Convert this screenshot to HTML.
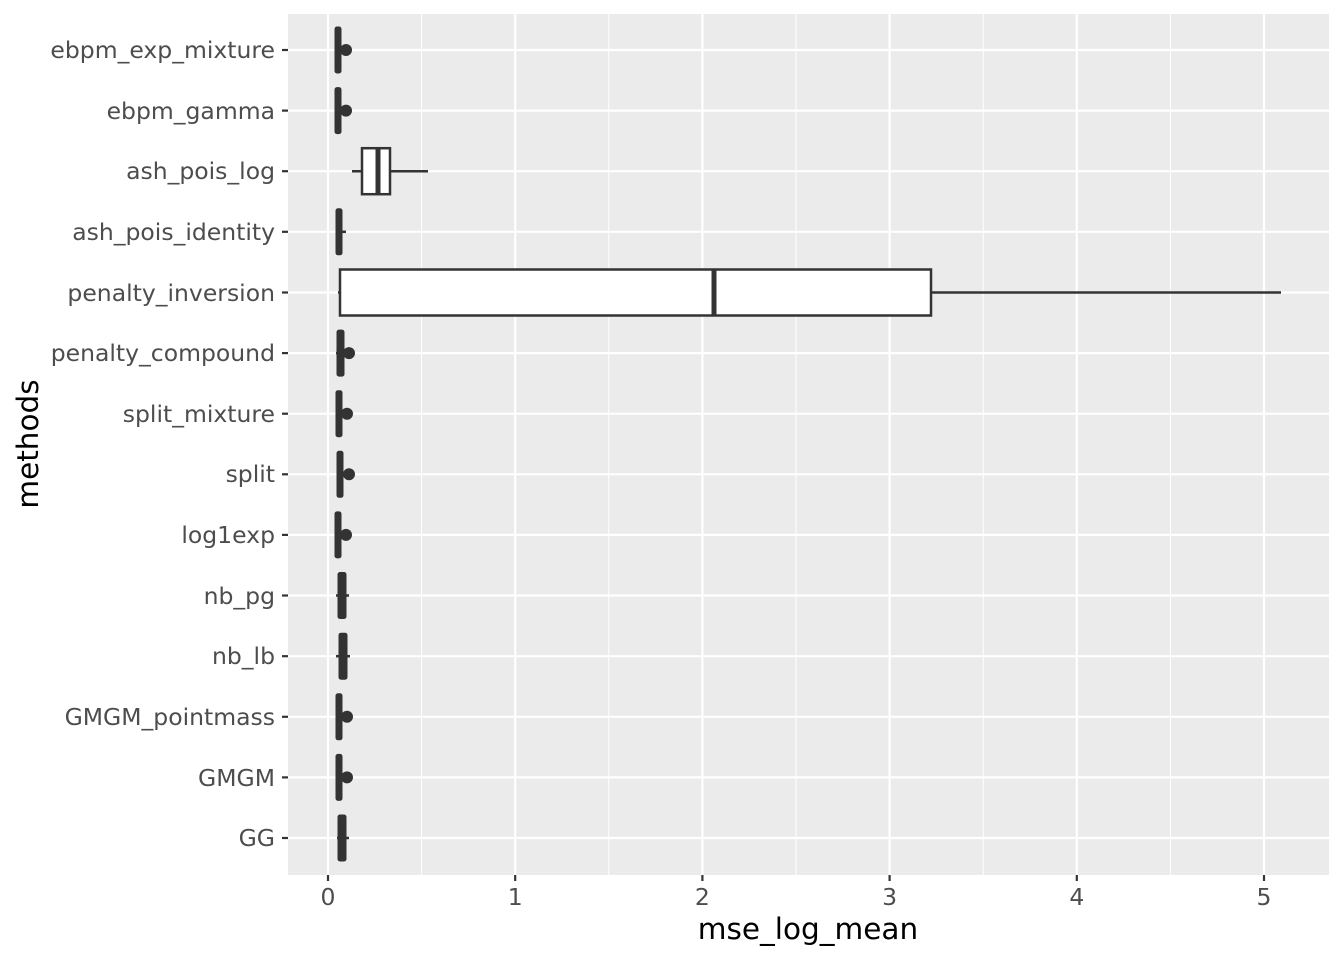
<!DOCTYPE html>
<html><head><meta charset="utf-8"><style>body{margin:0;background:#fff}svg{display:block}text{font-family:"DejaVu Sans","Liberation Sans",sans-serif}</style></head><body>
<svg width="1344" height="960" viewBox="0 0 1344 960" xmlns="http://www.w3.org/2000/svg">
<rect x="288" y="14" width="1041" height="861" fill="#ebebeb"/>
<g stroke="#fff" stroke-width="1">
<line x1="421.6" y1="14" x2="421.6" y2="875"/><line x1="608.8" y1="14" x2="608.8" y2="875"/><line x1="796" y1="14" x2="796" y2="875"/><line x1="983.2" y1="14" x2="983.2" y2="875"/><line x1="1170.4" y1="14" x2="1170.4" y2="875"/>
</g>
<g stroke="#fff" stroke-width="2.2">
<line x1="328" y1="14" x2="328" y2="875"/><line x1="515.2" y1="14" x2="515.2" y2="875"/><line x1="702.4" y1="14" x2="702.4" y2="875"/><line x1="889.6" y1="14" x2="889.6" y2="875"/><line x1="1076.8" y1="14" x2="1076.8" y2="875"/><line x1="1264" y1="14" x2="1264" y2="875"/>
<line x1="288" y1="50" x2="1329" y2="50"/><line x1="288" y1="110.6" x2="1329" y2="110.6"/><line x1="288" y1="171.2" x2="1329" y2="171.2"/><line x1="288" y1="231.8" x2="1329" y2="231.8"/><line x1="288" y1="292.5" x2="1329" y2="292.5"/><line x1="288" y1="353.1" x2="1329" y2="353.1"/><line x1="288" y1="413.7" x2="1329" y2="413.7"/><line x1="288" y1="474.3" x2="1329" y2="474.3"/><line x1="288" y1="534.9" x2="1329" y2="534.9"/><line x1="288" y1="595.5" x2="1329" y2="595.5"/><line x1="288" y1="656.2" x2="1329" y2="656.2"/><line x1="288" y1="716.8" x2="1329" y2="716.8"/><line x1="288" y1="777.4" x2="1329" y2="777.4"/><line x1="288" y1="838" x2="1329" y2="838"/>
</g>
<g fill="#333" stroke="#333">
<rect x="335" y="27" width="6" height="46" rx="2"/><circle cx="346" cy="50" r="6" stroke="none"/>
<rect x="335" y="87.6" width="6" height="46" rx="2"/><circle cx="346" cy="110.6" r="6" stroke="none"/>
<line x1="352" y1="171.2" x2="428" y2="171.2" stroke-width="2.5"/><rect x="362" y="148.2" width="28" height="46" fill="#fff" stroke-width="2.5"/><line x1="378" y1="148.2" x2="378" y2="194.2" stroke-width="5"/>
<line x1="336" y1="231.8" x2="346" y2="231.8" stroke-width="2.5"/><rect x="336" y="208.8" width="6" height="46" rx="2"/>
<line x1="338" y1="292.5" x2="1281" y2="292.5" stroke-width="2.5"/><rect x="340" y="269.5" width="591" height="46" fill="#fff" stroke-width="2.5"/><line x1="714" y1="269.5" x2="714" y2="315.5" stroke-width="5"/>
<line x1="336" y1="353.1" x2="344" y2="353.1" stroke-width="2.5"/><rect x="337" y="330.1" width="7" height="46" rx="2"/><circle cx="349" cy="353.1" r="6" stroke="none"/>
<rect x="336" y="390.7" width="6" height="46" rx="2"/><circle cx="347" cy="413.7" r="6" stroke="none"/>
<rect x="337" y="451.3" width="6" height="46" rx="2"/><circle cx="349" cy="474.3" r="6" stroke="none"/>
<rect x="335" y="511.9" width="6" height="46" rx="2"/><circle cx="346" cy="534.9" r="6" stroke="none"/>
<line x1="336" y1="595.5" x2="349" y2="595.5" stroke-width="2.5"/><rect x="338" y="572.5" width="8" height="46" rx="2"/>
<line x1="336" y1="656.2" x2="350" y2="656.2" stroke-width="2.5"/><rect x="339" y="633.2" width="8" height="46" rx="2"/>
<rect x="336" y="693.8" width="6" height="46" rx="2"/><circle cx="347" cy="716.8" r="6" stroke="none"/>
<rect x="336" y="754.4" width="6" height="46" rx="2"/><circle cx="347" cy="777.4" r="6" stroke="none"/>
<line x1="337" y1="838" x2="349" y2="838" stroke-width="2.5"/><rect x="338" y="815" width="8" height="46" rx="2"/>
</g>
<g stroke="#333" stroke-width="2.2">
<line x1="282" y1="50" x2="288" y2="50"/><line x1="282" y1="110.6" x2="288" y2="110.6"/><line x1="282" y1="171.2" x2="288" y2="171.2"/><line x1="282" y1="231.8" x2="288" y2="231.8"/><line x1="282" y1="292.5" x2="288" y2="292.5"/><line x1="282" y1="353.1" x2="288" y2="353.1"/><line x1="282" y1="413.7" x2="288" y2="413.7"/><line x1="282" y1="474.3" x2="288" y2="474.3"/><line x1="282" y1="534.9" x2="288" y2="534.9"/><line x1="282" y1="595.5" x2="288" y2="595.5"/><line x1="282" y1="656.2" x2="288" y2="656.2"/><line x1="282" y1="716.8" x2="288" y2="716.8"/><line x1="282" y1="777.4" x2="288" y2="777.4"/><line x1="282" y1="838" x2="288" y2="838"/>
<line x1="328" y1="875" x2="328" y2="881"/><line x1="515.2" y1="875" x2="515.2" y2="881"/><line x1="702.4" y1="875" x2="702.4" y2="881"/><line x1="889.6" y1="875" x2="889.6" y2="881"/><line x1="1076.8" y1="875" x2="1076.8" y2="881"/><line x1="1264" y1="875" x2="1264" y2="881"/>
</g>
<g fill="#4d4d4d" font-size="23.5" text-anchor="end">
<text x="275" y="58">ebpm_exp_mixture</text><text x="275" y="119">ebpm_gamma</text><text x="275" y="179">ash_pois_log</text><text x="275" y="240">ash_pois_identity</text><text x="275" y="301">penalty_inversion</text><text x="275" y="361">penalty_compound</text><text x="275" y="422">split_mixture</text><text x="275" y="482">split</text><text x="275" y="543">log1exp</text><text x="275" y="604">nb_pg</text><text x="275" y="664">nb_lb</text><text x="275" y="725">GMGM_pointmass</text><text x="275" y="786">GMGM</text><text x="275" y="846">GG</text>
</g>
<g fill="#4d4d4d" font-size="23.5" text-anchor="middle">
<text x="328" y="905">0</text><text x="515.2" y="905">1</text><text x="702.4" y="905">2</text><text x="889.6" y="905">3</text><text x="1076.8" y="905">4</text><text x="1264" y="905">5</text>
</g>
<text x="808" y="939" font-size="29.5" text-anchor="middle" fill="#000">mse_log_mean</text>
<text transform="translate(38,444) rotate(-90)" font-size="29.5" text-anchor="middle" fill="#000">methods</text>
</svg>
</body></html>
